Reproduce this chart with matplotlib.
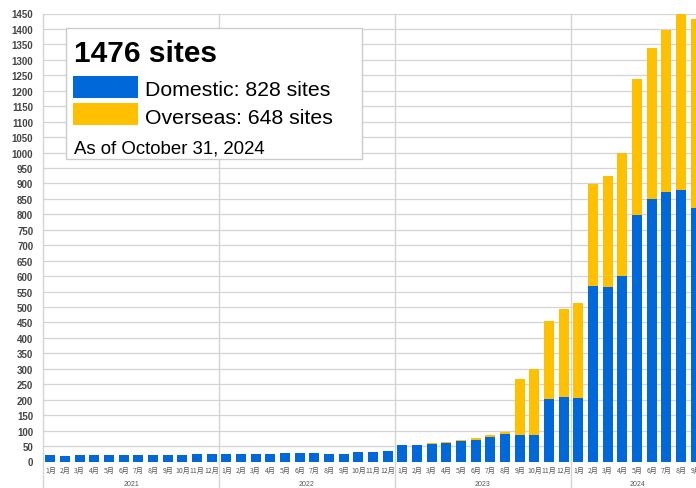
import numpy as np
import matplotlib
matplotlib.use("Agg")
import matplotlib.pyplot as plt
import matplotlib.transforms as mtransforms
from matplotlib.patches import Rectangle

plt.rcParams['font.family'] = ['Liberation Sans', 'Noto Sans CJK JP', 'DejaVu Sans']

# ---- data ----
years = ["2021", "2022", "2023", "2024"]
months_per_year = [12, 12, 12, 9]
month_names = ["1月", "2月", "3月", "4月", "5月", "6月",
               "7月", "8月", "9月", "10月", "11月", "12月"]

domestic = [20, 19, 20, 20, 20, 21, 21, 21, 22, 21, 25, 25,      # 2021
            25, 25, 25, 25, 26, 26, 27, 23, 23, 30, 31, 33,      # 2022
            52, 52, 56, 59, 65, 70, 78, 89, 86, 85, 202, 209,    # 2023
            206, 569, 565, 600, 797, 849, 871, 880, 820]         # 2024
overseas = [0] * 12 + [0] * 12 + \
           [0, 3, 3, 5, 5, 5, 9, 8, 180, 214, 253, 283] + \
           [308, 328, 359, 398, 442, 489, 527, 570, 611]

total_text = "1476 sites"
domestic_text = "Domestic: 828 sites"
overseas_text = "Overseas: 648 sites"
asof_text = "As of October 31, 2024"

blue = "#0068D9"
yellow = "#FFC000"
grid_col = "#d4d4d4"

W, H = 696, 489
fig = plt.figure(figsize=(W / 100, H / 100), dpi=100)
ax = fig.add_axes([43 / W, (H - 462.5) / H, 660 / W, 448 / H])

x = np.arange(len(domestic))
ax.bar(x, domestic, width=0.66, color=blue, zorder=2)
ax.bar(x, overseas, width=0.66, bottom=domestic, color=yellow, zorder=2)

ax.set_xlim(-0.5, len(domestic) - 0.5)
ax.set_ylim(0, 1450)
ax.set_yticks(np.arange(0, 1451, 50))
ax.grid(axis='y', color=grid_col, lw=0.9, zorder=0)
ax.set_axisbelow(True)
for s in ax.spines.values():
    s.set_visible(False)
ax.tick_params(axis='y', length=0, pad=7, labelsize=7, labelcolor='#444444')
for t in ax.get_yticklabels():
    t.set_fontweight('bold')

labels = []
for n in months_per_year:
    labels += month_names[:n]
ax.set_xticks(x)
ax.set_xticklabels(labels, fontsize=5, color='#555555', family=['Noto Sans CJK JP', 'DejaVu Sans'])
ax.tick_params(axis='x', length=0, pad=3.5)

# year separators and year labels
trans = mtransforms.blended_transform_factory(ax.transData, ax.transAxes)
start = 0
for yr, n in zip(years, months_per_year):
    ax.plot([start - 0.5, start - 0.5], [-0.06, 1], transform=trans, clip_on=False,
            color=grid_col, lw=1, zorder=1)
    ax.text(start + (n - 1) / 2, -22.5 / 448, yr, transform=trans, ha='center', va='center',
            fontsize=5, color='#555555')
    start += n

# legend box
def fx(px):
    return px / W

def fy(py):
    return 1 - py / H

fig.patches.append(Rectangle((fx(66), fy(160)), (362 - 66) / W, (160 - 29) / H,
                             transform=fig.transFigure, fc='white', ec='#cccccc', lw=1))
fig.text(fx(74), fy(62), total_text, fontsize=21.5, fontweight='bold', va='baseline')
fig.patches.append(Rectangle((fx(73), fy(99)), 65 / W, 22 / H, transform=fig.transFigure,
                             fc=blue, ec='none'))
fig.patches.append(Rectangle((fx(73), fy(126)), 65 / W, 22 / H, transform=fig.transFigure,
                             fc=yellow, ec='none'))
fig.text(fx(145), fy(96.5), domestic_text, fontsize=15.3, va='baseline')
fig.text(fx(145), fy(123.5), overseas_text, fontsize=15.3, va='baseline')
fig.text(fx(74), fy(153.5), asof_text, fontsize=13.4, va='baseline')

fig.savefig("out.png", dpi=100)
